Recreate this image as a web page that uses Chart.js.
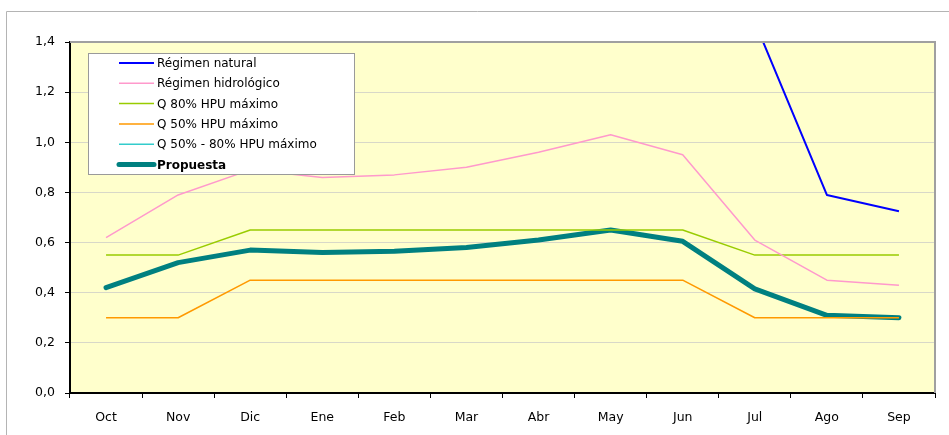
<!DOCTYPE html>
<html>
<head>
<meta charset="utf-8">
<script src="https://cdn.jsdelivr.net/npm/chart.js@4.4.1/dist/chart.umd.min.js"></script>
<style>
    html, body { margin: 0; padding: 0; background: #fff; }
    #wrap { width: 949px; height: 435px; position: relative; }
</style>
</head>
<body>
<div id="wrap"><canvas id="caudalChart" width="949" height="435"></canvas></div>
<script>
// ============================================
// DATOS
// ============================================
const months = ['Oct', 'Nov', 'Dic', 'Ene', 'Feb', 'Mar', 'Abr', 'May', 'Jun', 'Jul', 'Ago', 'Sep'];
const yTickLabels = ['0,0', '0,2', '0,4', '0,6', '0,8', '1,0', '1,2', '1,4'];

// fuera de escala de Oct a Jun (no se ven en el gráfico)
const regimenNatural = [2.9, 3.8, 5.2, 6.0, 6.5, 6.3, 5.4, 4.1, 2.6, 1.48, 0.79, 0.725];
const regimenHidrologico = [0.62, 0.79, 0.89, 0.86, 0.87, 0.90, 0.96, 1.03, 0.95, 0.61, 0.45, 0.43];
const q80 = [0.55, 0.55, 0.65, 0.65, 0.65, 0.65, 0.65, 0.65, 0.65, 0.55, 0.55, 0.55];
const q50 = [0.30, 0.30, 0.45, 0.45, 0.45, 0.45, 0.45, 0.45, 0.45, 0.30, 0.30, 0.30];
const q50_80 = [null, null, null, null, null, null, null, null, null, null, null, null];
const propuesta = [0.42, 0.52, 0.57, 0.56, 0.565, 0.58, 0.61, 0.65, 0.605, 0.415, 0.31, 0.30];

const FONT = 'DejaVu Sans';

// Fondo amarillo, marco exterior y bordes gris del área
const framePlugin = {
    id: 'frame',
    beforeDraw(chart) {
        const { ctx, chartArea: a } = chart;
        ctx.save();
        ctx.strokeStyle = '#b4b4b4';
        ctx.lineWidth = 1;
        ctx.beginPath();
        ctx.moveTo(6.5, 435);
        ctx.lineTo(6.5, 11.5);
        ctx.lineTo(949, 11.5);
        ctx.stroke();
        ctx.fillStyle = '#ffffcc';
        ctx.fillRect(a.left, a.top, a.right - a.left, a.bottom - a.top);
        ctx.restore();
    },
    afterDraw(chart) {
        const { ctx, chartArea: a } = chart;
        ctx.save();
        ctx.strokeStyle = '#a0a0a0';
        ctx.lineWidth = 2;
        ctx.beginPath();
        ctx.moveTo(a.left, a.top);
        ctx.lineTo(a.right, a.top);
        ctx.lineTo(a.right, a.bottom);
        ctx.stroke();
        ctx.restore();
    }
};

// Leyenda dentro del área, con caja blanca
const boxLegendPlugin = {
    id: 'boxLegend',
    afterDatasetsDraw(chart) {
        const ctx = chart.ctx;
        const x = 88, y = 53, w = 266, h = 121;
        ctx.save();
        ctx.fillStyle = '#ffffff';
        ctx.fillRect(x, y, w, h);
        ctx.strokeStyle = '#9a9a9a';
        ctx.lineWidth = 1;
        ctx.strokeRect(x + 0.5, y + 0.5, w, h);
        chart.data.datasets.forEach((ds, i) => {
            const ly = 63 + i * 20.3;
            ctx.strokeStyle = ds.borderColor;
            ctx.lineWidth = ds.borderWidth;
            ctx.lineCap = ds.borderWidth > 3 ? 'round' : 'butt';
            ctx.beginPath();
            ctx.moveTo(119, ly);
            ctx.lineTo(154, ly);
            ctx.stroke();
            ctx.fillStyle = '#000';
            ctx.font = (ds.label === 'Propuesta' ? 'bold ' : '') + '12px "' + FONT + '"';
            ctx.textBaseline = 'middle';
            ctx.fillText(ds.label, 157, ly + 1);
        });
        ctx.restore();
    }
};

function serie(label, data, color, width) {
    return {
        label: label,
        data: data,
        borderColor: color,
        backgroundColor: color,
        borderWidth: width,
        pointRadius: 0,
        tension: 0,
        fill: false,
        clip: 0,
        borderCapStyle: width > 3 ? 'round' : 'butt',
        borderJoinStyle: 'round'
    };
}

new Chart(document.getElementById('caudalChart'), {
    type: 'line',
    data: {
        labels: months,
        datasets: [
            serie('Régimen natural', regimenNatural, '#0000ff', 2),
            serie('Régimen hidrológico', regimenHidrologico, '#ff99cc', 1.5),
            serie('Q 80% HPU máximo', q80, '#99cc00', 1.5),
            serie('Q 50% HPU máximo', q50, '#ff9900', 1.5),
            serie('Q 50% - 80% HPU máximo', q50_80, '#33cccc', 1.5),
            serie('Propuesta', propuesta, '#008080', 5)
        ]
    },
    options: {
        responsive: false,
        animation: false,
        layout: { padding: { top: 42, right: 14, left: 0, bottom: 0 } },
        plugins: {
            legend: { display: false },
            tooltip: { enabled: false }
        },
        scales: {
            x: {
                offset: true,
                afterFit(scale) { scale.height = 42; },
                grid: {
                    offset: true,
                    drawOnChartArea: false,
                    drawTicks: true,
                    tickLength: 5,
                    color: '#000'
                },
                border: { display: true, color: '#000', width: 2 },
                ticks: {
                    color: '#000',
                    font: { family: FONT, size: 12.5 },
                    padding: 12,
                    maxRotation: 0
                }
            },
            y: {
                min: 0,
                max: 1.4,
                afterFit(scale) { scale.width = 70; },
                grid: {
                    color: '#d8d8c8',
                    tickColor: '#000',
                    tickLength: 5
                },
                border: { display: true, color: '#000', width: 2 },
                ticks: {
                    stepSize: 0.2,
                    color: '#000',
                    padding: 10,
                    font: { family: FONT, size: 12.5 },
                    callback: (v, i) => yTickLabels[i]
                }
            }
        }
    },
    plugins: [framePlugin, boxLegendPlugin]
});
</script>
</body>
</html>
